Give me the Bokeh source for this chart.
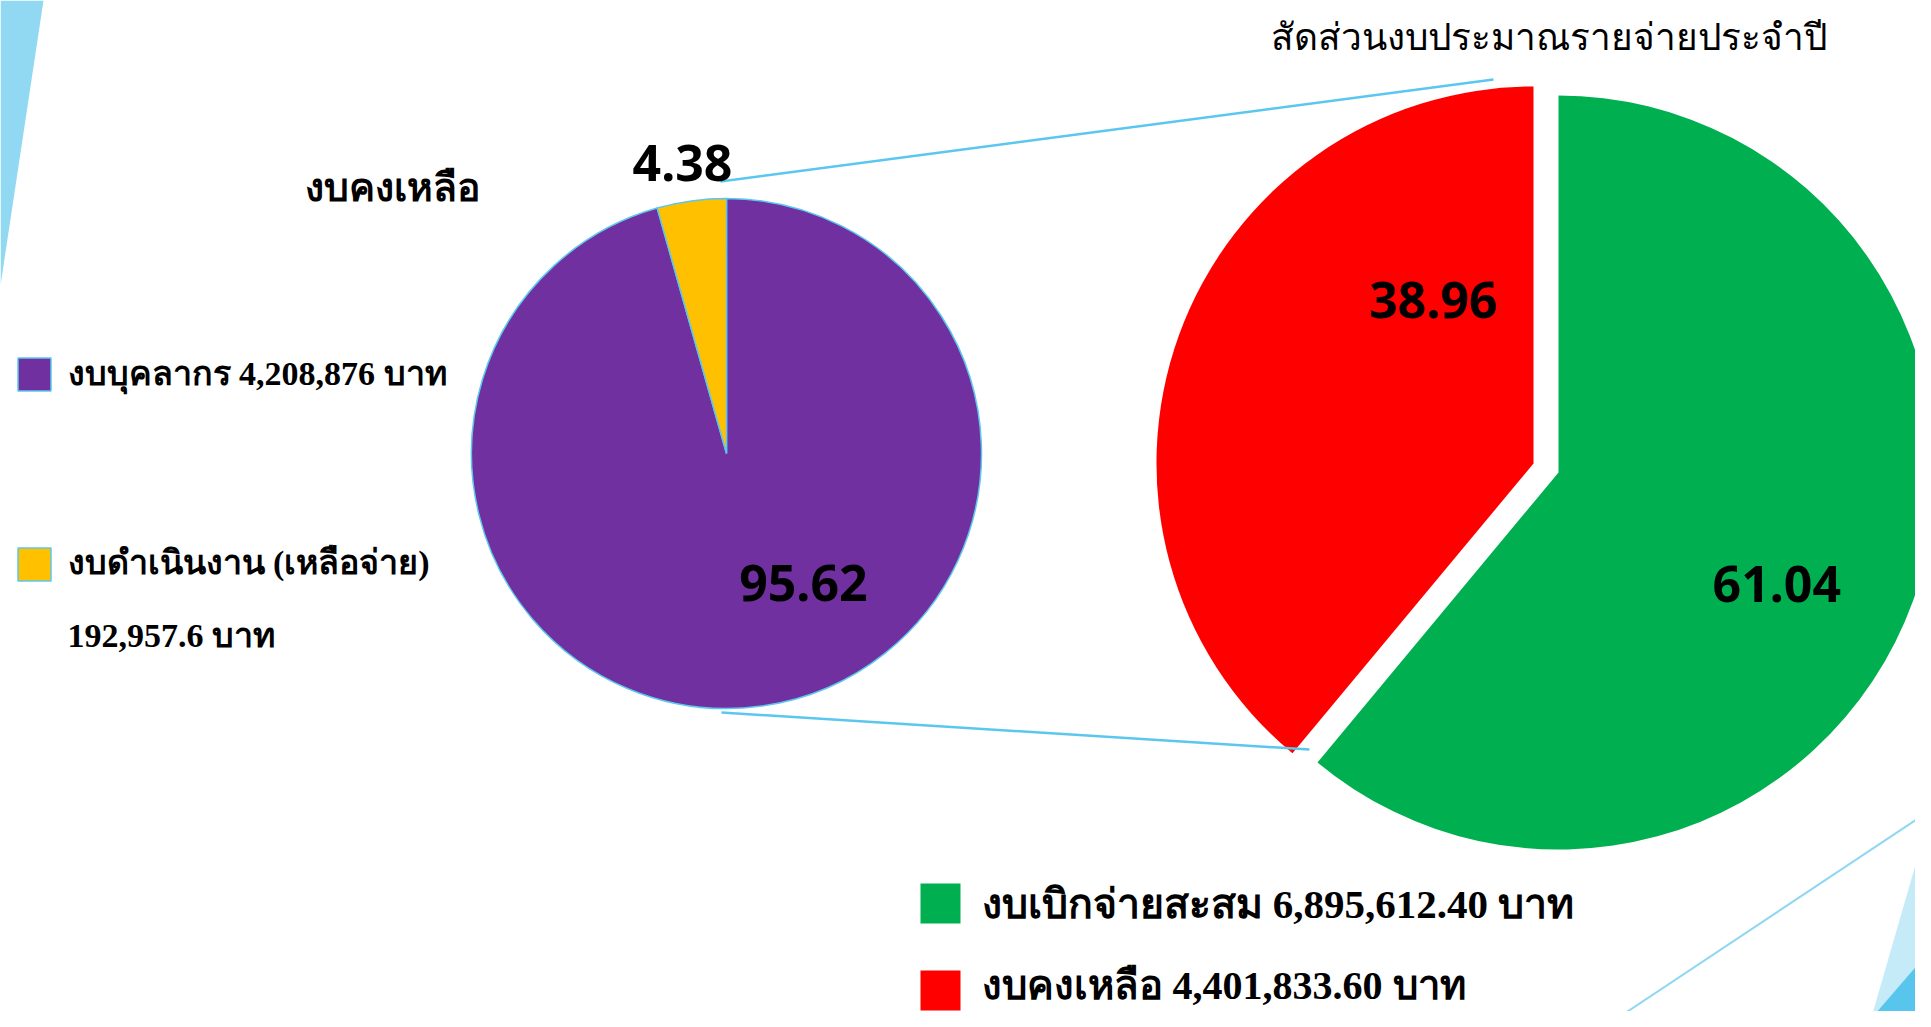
import numpy as np
from bokeh.plotting import figure
from bokeh.models import Range1d
from bokeh.core.properties import value
from bokeh.embed import file_html
from bokeh.resources import INLINE

# ---------------- data ----------------
title_text = "สัดส่วนงบประมาณรายจ่ายประจำปี"
small_title = "งบคงเหลือ"
unit = "บาท"

small_names = ["งบบุคลากร", "งบดำเนินงาน (เหลือจ่าย)"]
small_amounts = ["4,208,876", "192,957.6"]
small_pct = [95.62, 4.38]
small_colors = ["#7030A0", "#FFC000"]

big_names = ["งบเบิกจ่ายสะสม", "งบคงเหลือ"]
big_amounts = ["6,895,612.40", "4,401,833.60"]
big_pct = [61.04, 38.96]
big_colors = ["#00B050", "#FF0000"]

# ---------------- layout (picture pixel space, y down) ----------------
PW, PH = 1915, 1011
def Y(y):
    return PH - y

SMALL_C = (726, 453); SMALL_R = 255
BIG_C = (1545.5, 467.5); BIG_R = 377; EXPLODE = 13.3
# label polar positions (deg, dist) relative to each slice's centre
small_lab = [(-59.4, 151), (98.6, 294)]
big_lab = [(-27.0, 245), (121.4, 192)]
BLUE = "#5BC7EE"
BASE_SHIFT = 12  # Thai fallback font sits low on the alphabetic baseline

p = figure(width=PW, height=PH, output_backend="svg",
           toolbar_location=None, x_range=Range1d(0, PW),
           y_range=Range1d(0, PH), min_border=0)
p.axis.visible = False
p.grid.visible = False
p.outline_line_color = None
p.background_fill_color = "white"
p.border_fill_color = "white"

# decorations
p.patch([0, 43, 0], [Y(0), Y(0), Y(285)], color="#91D9F3", line_color=None)
p.patch([1931, 1868, 1931], [Y(809), Y(1027), Y(1027)], color="#C5EBF9", line_color=None)
p.patch([1931, 1863, 1931], [Y(948), Y(1027), Y(1027)], color="#57C5EC", line_color=None)
p.line([1603, 1931], [Y(1027), Y(809)], line_color="#8ED8F2", line_width=2)

def pie_geom(pcts, cx, cy, explode):
    cum = np.concatenate([[0], np.cumsum(pcts)]) / 100.0
    start = np.deg2rad(90 - cum[:-1] * 360)
    end = np.deg2rad(90 - cum[1:] * 360)
    mid = (start + end) / 2
    xs = cx + explode * np.cos(mid)
    ys = cy + explode * np.sin(mid)
    return start, end, xs, ys

# small pie
s0, s1, sx, sy = pie_geom(small_pct, SMALL_C[0], Y(SMALL_C[1]), 0)
p.wedge(x=sx, y=sy, radius=SMALL_R, start_angle=s0, end_angle=s1,
        direction="clock", fill_color=small_colors, line_color=BLUE, line_width=1.5)

# big pie (exploded)
b0, b1, bx, by = pie_geom(big_pct, BIG_C[0], Y(BIG_C[1]), EXPLODE)
p.wedge(x=bx, y=by, radius=BIG_R, start_angle=b0, end_angle=b1,
        direction="clock", fill_color=big_colors, line_color=None)

# connector lines
p.segment(x0=[720, 721], y0=[Y(181), Y(712)], x1=[1493, 1309], y1=[Y(79), Y(749)],
          line_color=BLUE, line_width=2.5)

# percentage labels
lx, ly, lt = [], [], []
for i, (a, d) in enumerate(small_lab):
    lx.append(sx[i] + d * np.cos(np.deg2rad(a)))
    ly.append(sy[i] + d * np.sin(np.deg2rad(a)))
    lt.append(f"{small_pct[i]:.2f}")
for i, (a, d) in enumerate(big_lab):
    lx.append(bx[i] + d * np.cos(np.deg2rad(a)))
    ly.append(by[i] + d * np.sin(np.deg2rad(a)))
    lt.append(f"{big_pct[i]:.2f}")
p.text(x=lx, y=ly, text=lt, text_font=value("Noto Sans"), text_font_style="bold",
       text_font_size="50px", text_align="center", text_baseline="middle",
       text_color="black")

def B(y):
    return Y(y - BASE_SHIFT)

# title
p.text(x=[1548], y=[B(47)], text=[title_text], text_font=value("Noto Sans"),
       text_font_size="37px", text_align="center", text_baseline="alphabetic",
       text_color="black")

# small pie heading and legend
serif = value("Liberation Serif")
p.text(x=[304], y=[B(199)], text=[small_title], text_font=serif, text_font_style="bold",
       text_font_size="39px", text_baseline="alphabetic", text_color="black")
p.rect(x=[34, 34], y=[Y(374), Y(564)], width=33, height=33,
       fill_color=small_colors, line_color=BLUE, line_width=1.5)
p.text(x=[67, 67, 67], y=[B(385), B(574), B(647)],
       text=[f"{small_names[0]} {small_amounts[0]} {unit}", small_names[1],
             f"{small_amounts[1]} {unit}"],
       text_font=serif, text_font_style="bold", text_font_size="34px",
       text_baseline="alphabetic", text_color="black")

# big pie legend
p.rect(x=[940, 940], y=[Y(903), Y(990)], width=40, height=40,
       fill_color=big_colors, line_color=None)
p.text(x=[981], y=[B(915)],
       text=[f"{big_names[0]} {big_amounts[0]} {unit}"],
       text_font=serif, text_font_style="bold", text_font_size="41px",
       text_baseline="alphabetic", text_color="black")
p.text(x=[981], y=[B(997)],
       text=[f"{big_names[1]} {big_amounts[1]} {unit}"],
       text_font=serif, text_font_style="bold", text_font_size="40px",
       text_baseline="alphabetic", text_color="black")

open("out.html", "w").write(file_html(p, INLINE))
